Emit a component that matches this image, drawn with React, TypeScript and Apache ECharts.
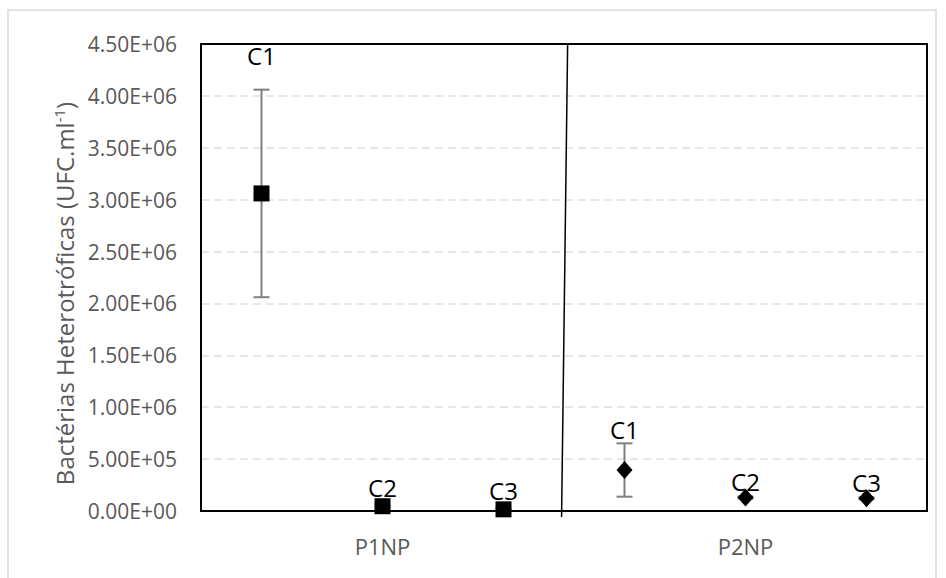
import React, { useEffect, useRef } from "react";
import * as echarts from "echarts";

const categories = ["P1NP", "P2NP"];
const pointLabels = ["C1", "C2", "C3"];
const p1Means = [3.06e6, 4.6e4, 1.6e4];
const p1Errors = [1.0e6, 1.0e4, 1.0e4];
const p2Means = [3.95e5, 1.3e5, 1.22e5];
const p2Errors = [2.57e5, 1.0e4, 1.0e4];
const yTicksMax = 4.5e6;
const yTickStep = 5e5;
const dividerLine = [
  [3.03, 4.5e6],
  [2.98, -5.8e4],
];

// label offsets (styling): pixels above marker centre
const p1LabelOffsets = [-138, -19, -19];
const p2LabelOffsets = [-41, -16, -16];

const FONT = "'Open Sans', sans-serif";
const GRAY = "#595959";

function fmtSci(v: number) {
  const [m, e] = v.toExponential(2).split("e");
  const sign = e[0] === "-" ? "-" : "+";
  const digits = e.replace(/[+-]/, "").padStart(2, "0");
  return `${m}E${sign}${digits}`;
}

function groupData(gi: number, means: number[], errs: number[]) {
  return means.map((m, i) => [gi * 3 + i + 0.5, m, errs[i]]);
}

export default function App() {
  const ref = useRef<HTMLDivElement>(null);
  useEffect(() => {
    if (!ref.current) return;
    const chart = echarts.init(ref.current, null, { renderer: "svg" });
    const d1 = groupData(0, p1Means, p1Errors);
    const d2 = groupData(1, p2Means, p2Errors);

    const errorSeries = (data: number[][]) => ({
      type: "custom",
      xAxisIndex: 0,
      yAxisIndex: 0,
      z: 2,
      clip: false,
      data,
      renderItem: (_p: any, api: any) => {
        const x = api.value(0);
        const m = api.value(1);
        const e = api.value(2);
        const t = api.coord([x, m + e]);
        const b = api.coord([x, m - e]);
        const half = 8;
        const style = { stroke: "#7f7f7f", lineWidth: 2 };
        return {
          type: "group",
          children: [
            { type: "line", shape: { x1: t[0], y1: t[1], x2: b[0], y2: b[1] }, style },
            { type: "line", shape: { x1: t[0] - half, y1: t[1], x2: t[0] + half, y2: t[1] }, style },
            { type: "line", shape: { x1: b[0] - half, y1: b[1], x2: b[0] + half, y2: b[1] }, style },
          ],
        };
      },
    });

    const pointSeries = (name: string, data: number[][], symbol: string, size: any, offsets: number[]) => ({
      name,
      type: "scatter",
      xAxisIndex: 0,
      yAxisIndex: 0,
      z: 3,
      symbol,
      symbolSize: size,
      itemStyle: { color: "#000", opacity: 1 },
      data: data.map((d) => [d[0], d[1]]),
      label: {
        show: true,
        position: "inside",
        formatter: (p: any) => pointLabels[p.dataIndex],
        color: "#000",
        fontFamily: FONT,
        fontSize: 24,
      },
      labelLayout: (p: any) => ({ dy: offsets[p.dataIndex] }),
    });

    chart.setOption({
      animation: false,
      graphic: [
        {
          type: "rect",
          shape: { x: 8, y: 10, width: 928, height: 600 },
          style: { fill: "none", stroke: "#d9d9d9", lineWidth: 1.5 },
          silent: true,
        },
      ],
      grid: {
        left: 201,
        top: 44,
        right: 19,
        bottom: 67,
        show: true,
        borderColor: "#000",
        borderWidth: 2,
        z: 4,
      },
      xAxis: [
        { type: "value", min: 0, max: 6, show: false },
        {
          type: "category",
          data: categories,
          position: "bottom",
          boundaryGap: true,
          axisLine: { show: false },
          axisTick: { show: false },
          splitLine: { show: false },
          axisLabel: { color: GRAY, fontFamily: FONT, fontSize: 22, margin: 24 },
        },
      ],
      yAxis: {
        type: "value",
        min: 0,
        max: yTicksMax,
        interval: yTickStep,
        axisLine: { show: false },
        axisTick: { show: false },
        axisLabel: { color: GRAY, fontFamily: FONT, fontSize: 21, margin: 24, formatter: fmtSci },
        splitLine: { show: true, lineStyle: { color: "#e0e0e0", type: [8, 5], width: 1.5 } },
        name: "{a|Bactérias Heterotróficas (UFC.ml}{s|-1}{a|)}",
        nameLocation: "middle",
        nameGap: 122,
        nameTextStyle: {
          padding: [0, 32, 0, 0],
          rich: {
            a: { color: GRAY, fontFamily: FONT, fontSize: 24 },
            s: { color: GRAY, fontFamily: FONT, fontSize: 15, verticalAlign: "top", padding: [0, 0, 12, 0] },
          },
        },
      },
      series: [
        {
          type: "line",
          xAxisIndex: 0,
          yAxisIndex: 0,
          data: dividerLine,
          symbol: "none",
          clip: false,
          z: 4,
          lineStyle: { color: "#000", width: 1.5 },
        },
        errorSeries(d1),
        errorSeries(d2),
        pointSeries("P1NP", d1, "rect", 16, p1LabelOffsets),
        pointSeries("P2NP", d2, "diamond", [16, 18], p2LabelOffsets),
      ],
    });
    return () => chart.dispose();
  }, []);
  return (
    <div
      ref={ref}
      style={{ position: "fixed", left: 0, top: 0, width: 946, height: 578, background: "#fff" }}
    />
  );
}
